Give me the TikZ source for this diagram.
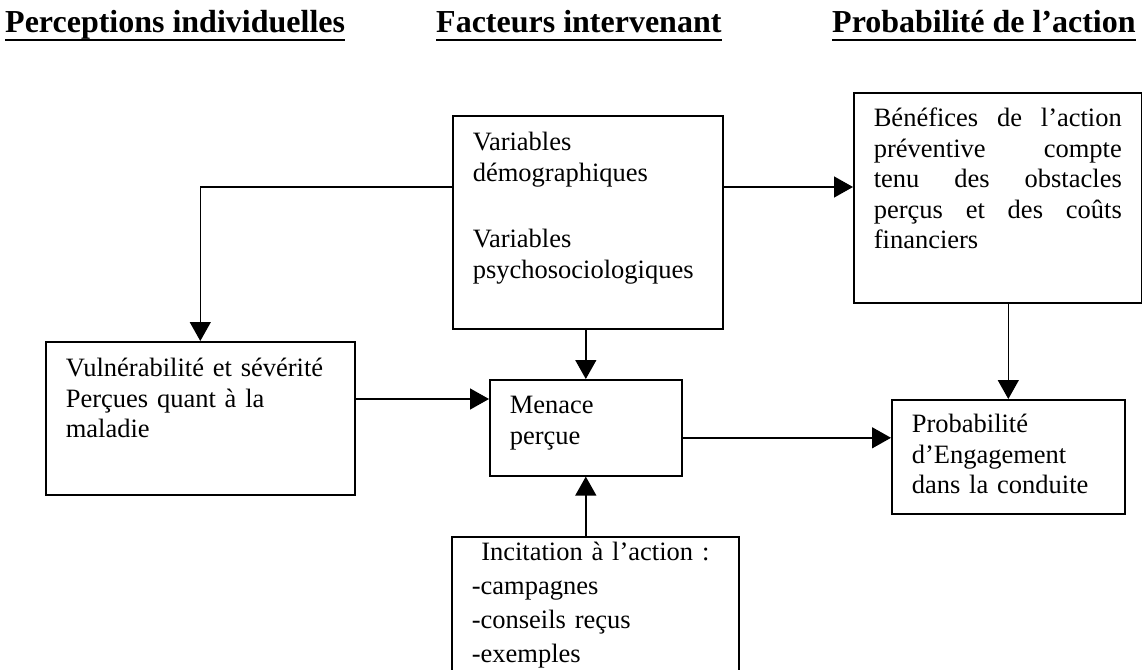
\documentclass[tikz,border=0pt]{standalone}
\usepackage{fontspec}
\setmainfont{Liberation Serif}
\usetikzlibrary{arrows.meta}

\newcommand{\jline}[1]{\makebox[\hsize][s]{\spaceskip=0pt\xspaceskip=0pt #1}}

\begin{document}
\begin{tikzpicture}[
  x=1pt, y=-1pt,
  font=\fontsize{26.5}{30.5}\selectfont,
  box/.style={
    draw,
    line width=1.6pt,
    anchor=north west,
    align=left,
    inner xsep=20pt,
    inner ysep=0pt
  },
  head/.style={anchor=base west, inner sep=0pt, font=\fontsize{32}{36}\selectfont\bfseries},
  arrow/.style={-{Triangle[length=19pt,width=21pt]}, line width=1.4pt}
]
\useasboundingbox (0,0) rectangle (1142,669);

% column headings
\node[head] (hperc) at (5,33) {Perceptions individuelles};
\node[head] (hfact) at (436,33) {Facteurs intervenant};
\node[head] (hprob) at (832,33) {Probabilité de l’action};
\foreach \h in {hperc,hfact,hprob}
  \draw[line width=2.5pt] ([yshift=-7pt]\h.base west) -- ([yshift=-7pt]\h.base east);

% boxes
\node[box, text width=230pt, text height=35pt, text depth=178pt] (var) at (452,115)
  {Variables\\démographiques\\[36pt]Variables\\psychosociologiques};
\node[box, text width=248pt, text height=34pt, text depth=176pt] (ben) at (853,92)
  {\jline{Bénéfices de l’action}\\\jline{préventive compte}\\\jline{tenu des obstacles}\\\jline{perçus et des coûts}\\financiers};
\node[box, text width=269pt, text height=35pt, text depth=118pt] (vul) at (45,341)
  {Vulnérabilité et sévérité\\Perçues quant à la\\maladie};
\node[box, text width=152pt, text height=34pt, text depth=62pt] (men) at (489,379)
  {Menace\\perçue};
\node[box, text width=193pt, text height=33pt, text depth=81pt] (prob) at (891,399)
  {Probabilité\\d’Engagement\\dans la conduite};
\node[box, text width=247pt, text height=24pt, text depth=140pt,
  font=\fontsize{26.5}{34}\selectfont] (inc) at (451,536)
  {\makebox[\hsize]{Incitation à l’action :}\\-campagnes\\-conseils reçus\\-exemples};

% connectors
\draw[arrow] ([yshift=-72pt]var.north west) -| (vul.north);
\draw[arrow] ([yshift=-72pt]var.north east) coordinate (vb) -- (vb -| ben.west);
\draw[arrow] (var.south -| men.north) -- (men.north);
\draw[arrow] ([yshift=-58pt]vul.north east) coordinate (vm) -- (vm -| men.west);
\draw[arrow] ([yshift=-10pt]men.east) coordinate (mp) -- (mp -| prob.west);
\draw[arrow] (ben.south -| prob.north) -- (prob.north);
\draw[arrow] (inc.north -| men.south) -- (men.south);

\end{tikzpicture}
\end{document}
